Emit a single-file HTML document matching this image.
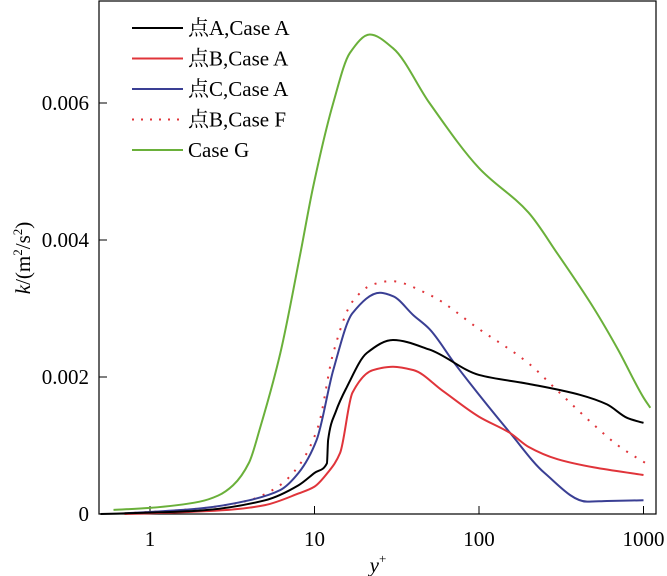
<!DOCTYPE html><html><head><meta charset="utf-8"><style>body{margin:0;background:#fff}svg{display:block;font-family:"Liberation Serif","Noto Serif CJK SC",serif}</style></head><body>
<svg id="c" width="667" height="576"></svg>
<script>
const xTicks=[1,10,100,1000];
const yTicks=[0,0.002,0.004,0.006];
const yTickLabels=["0","0.002","0.004","0.006"];
const xG=[0.6,1,2,2.6,3.2,4,4.66,6.2,8.2,9.8,13,16.4,21.7,30,50,100,200,300,500,700,1000,1100];
const kG=[0.00006,0.00009,0.00018,0.00027,0.00042,0.00075,0.00125,0.00235,0.0038,0.00477,0.006,0.00673,0.007,0.0068,0.006,0.00505,0.0044,0.0038,0.003,0.0024,0.0017,0.00155];
const xA=[0.5,1,2,5,8,10,11.9,12.1,13.5,15.7,20.8,30,50,100,200,410,600,800,1000];
const kA=[0,0.00002,0.00005,0.0002,0.00042,0.0006,0.00074,0.00108,0.0015,0.00185,0.00235,0.00254,0.0024,0.00203,0.0019,0.00174,0.0016,0.0014,0.00133];
const xB=[0.7,1,3,5,8,10,12,14.3,17,22.6,30,40,60,100,155,200,300,500,1000];
const kB=[0,0.00001,0.00006,0.00013,0.0003,0.0004,0.0006,0.00089,0.00177,0.0021,0.00215,0.0021,0.0018,0.00142,0.00118,0.00098,0.0008,0.00068,0.00057];
const xC=[0.7,1,2,4,6.2,8,10.3,13,17,25,30,40,50,71,155,250,455,600,1000];
const kC=[0.00001,0.00003,0.00008,0.0002,0.00035,0.0006,0.00108,0.0021,0.00293,0.00323,0.00318,0.0029,0.0027,0.0022,0.00118,0.0006,0.00018,0.00019,0.0002];
const xF=[0.7,1,2,4,6,8,10.5,13,17,22.6,29,50,100,200,300,500,700,1100];
const kF=[0.00001,0.00003,0.00008,0.0002,0.0004,0.0007,0.00127,0.00235,0.0031,0.00335,0.0034,0.0032,0.0027,0.0022,0.0018,0.0013,0.001,0.0007];
const NS="http://www.w3.org/2000/svg",svg=document.getElementById('c');
const L=99,R=656,T=1,B=514;
const X=v=>150+164.5*Math.log10(v);
const Y=v=>B-v/0.002*137;
function el(t,a,p){const e=document.createElementNS(NS,t);for(const k in a)e.setAttribute(k,a[k]);(p||svg).appendChild(e);return e;}
const fr=el('rect',{x:L,y:T,width:R-L,height:B-T,fill:'none',stroke:'#000','stroke-width':1.2});


xTicks.forEach(v=>{
 const t=el('line',{x1:X(v),x2:X(v),y1:B,y2:B-8,stroke:'#000'});
 
 
 const s=el('text',{x:X(v),y:B+32,'font-size':21,'text-anchor':'middle'});s.textContent=v;
 
 
});
yTicks.forEach((v,i)=>{
 const t=el('line',{x1:L,x2:L+8,y1:Y(v),y2:Y(v),stroke:'#000'});
 
 
 const s=el('text',{x:89,y:Y(v)+7,'font-size':21,'text-anchor':'end'});s.textContent=yTickLabels[i];
 
 
});
const xt=el('text',{x:378,y:572,'font-size':21,'font-style':'italic','text-anchor':'middle'});xt.innerHTML='y<tspan font-size="13" dy="-9" font-style="normal">+</tspan>';


const yt=el('text',{transform:'translate(30,258) rotate(-90)','font-size':21,'text-anchor':'middle'});yt.innerHTML='<tspan font-style="italic">k</tspan>/(m<tspan font-size="13" dy="-8">2</tspan><tspan dy="8">/s</tspan><tspan font-size="13" dy="-8">2</tspan><tspan dy="8">)</tspan>';


const series=[[xG,kG,'#6ab03a',0,'series-case-g'],[xF,kF,'#e0343a',1,'series-b-case-f'],[xC,kC,'#3a3f94',0,'series-c-case-a'],[xB,kB,'#e0343a',0,'series-b-case-a'],[xA,kA,'#000',0,'series-a-case-a']];
function monotone(p){
 const n=p.length,d=[],m=[];
 for(let i=0;i<n-1;i++)d.push((p[i+1][1]-p[i][1])/(p[i+1][0]-p[i][0]));
 m[0]=d[0];m[n-1]=d[n-2];
 for(let i=1;i<n-1;i++){
  if(d[i-1]*d[i]<=0)m[i]=0;
  else{const h0=p[i][0]-p[i-1][0],h1=p[i+1][0]-p[i][0];const w1=2*h1+h0,w2=h1+2*h0;m[i]=(w1+w2)/(w1/d[i-1]+w2/d[i]);}
 }
 let s='M'+p[0][0]+','+p[0][1];
 for(let i=0;i<n-1;i++){const h=(p[i+1][0]-p[i][0])/3;
  s+=`C${p[i][0]+h},${p[i][1]+m[i]*h} ${p[i+1][0]-h},${p[i+1][1]-m[i+1]*h} ${p[i+1][0]},${p[i+1][1]}`;}
 return s;
}
series.forEach(s=>{
 const pts=s[0].map((v,i)=>[X(v),Y(s[1][i])]);
 const p=el('path',{d:monotone(pts),fill:'none',stroke:s[2],'stroke-width':2,'stroke-dasharray':s[3]?'2 8':'none'});
 
 
});
const leg=[['点A,Case A','#000',0],['点B,Case A','#e0343a',0],['点C,Case A','#3a3f94',0],['点B,Case F','#e0343a',1],['Case G','#6ab03a',0]];
leg.forEach((l,i)=>{
 const y=28+i*30.5;
 const g=el('g',{});
 
 
 el('line',{x1:132,x2:183,y1:y,y2:y,stroke:l[1],'stroke-width':2,'stroke-dasharray':l[2]?'2 7':'none'},g);
 const t=el('text',{x:188,y:y+7,'font-size':21},g);t.textContent=l[0];
});
</script></body></html>
